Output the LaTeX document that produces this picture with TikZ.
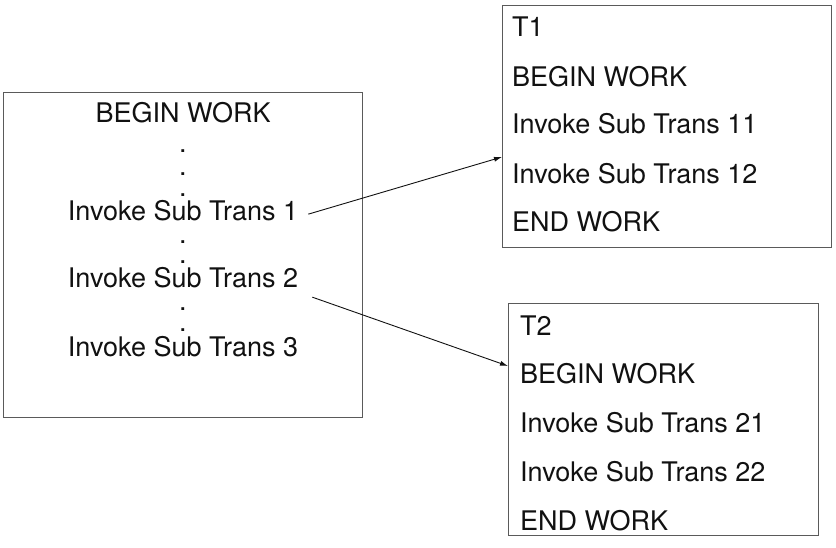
\documentclass[tikz,border=0pt]{standalone}
\usepackage{fontspec}
\setmainfont{TeX Gyre Heros}
\usepackage{xcolor}
\usepackage{tikz}
\usetikzlibrary{arrows.meta,positioning}
\definecolor{boxgray}{HTML}{5A5A5A}
\definecolor{inkblack}{HTML}{111111}
\tikzset{
  boxnode/.style={draw=boxgray,line width=1.2pt,inner sep=0pt,anchor=north west},
  linetext/.style={inner sep=0pt,font=\fontsize{27pt}{31pt}\selectfont,text=inkblack},
  subarrow/.style={-{Latex[length=8pt,width=5pt]},draw=inkblack,line width=0.9pt},
}
\begin{document}
\begin{tikzpicture}[x=1pt,y=-1pt]
    \useasboundingbox (0,0) rectangle (836,548);
    % main transaction
    \node[boxnode,minimum width=359pt,minimum height=325pt] (main) at (3,92) {};
    \node[linetext,anchor=base] (mbegin) at (183,123) {BEGIN WORK};
    \node[linetext,anchor=base] (inv1) at (183,221) {Invoke Sub Trans 1};
    \node[linetext,anchor=base] (inv2) at (183,288) {Invoke Sub Trans 2};
    \node[linetext,anchor=base] (inv3) at (183,356) {Invoke Sub Trans 3};
    \foreach \y [count=\i] in {152.5,176,196.5,244,264,310.5,331}
      \node[linetext,anchor=base] (dot\i) at (183,\y) {.};
    % sub transaction T1
    \node[boxnode,minimum width=329pt,minimum height=242pt] (t1) at (502,5) {};
    \node[linetext,anchor=base west] (t1name) at (512,37) {T1};
    \node[linetext,anchor=base west] (t1begin) at (512,87) {BEGIN WORK};
    \node[linetext,anchor=base west] (sub11) at (512,134) {Invoke Sub Trans 11};
    \node[linetext,anchor=base west] (sub12) at (512,184) {Invoke Sub Trans 12};
    \node[linetext,anchor=base west] (t1end) at (512,232) {END WORK};
    % sub transaction T2
    \node[boxnode,minimum width=310pt,minimum height=232pt] (t2) at (508,303) {};
    \node[linetext,anchor=base west] (t2name) at (520,335) {T2};
    \node[linetext,anchor=base west] (t2begin) at (520,383) {BEGIN WORK};
    \node[linetext,anchor=base west] (sub21) at (520,432) {Invoke Sub Trans 21};
    \node[linetext,anchor=base west] (sub22) at (520,481) {Invoke Sub Trans 22};
    \node[linetext,anchor=base west] (t2end) at (520,530) {END WORK};
    \draw[subarrow] ([xshift=10pt,yshift=-3pt]inv1.east) -- (t1.west |- 0,157);
    \draw[subarrow] ([xshift=14pt,yshift=-19pt]inv2.east) -- (t2.west |- 0,366);
  \end{tikzpicture}
\end{document}
